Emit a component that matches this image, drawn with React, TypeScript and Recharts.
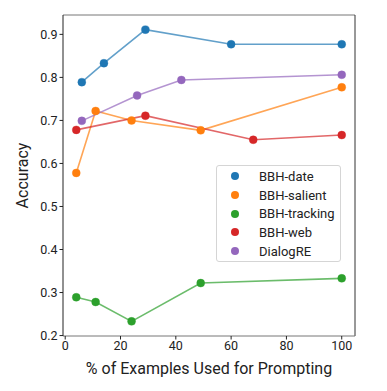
import {
  LineChart,
  Line,
  XAxis,
  YAxis,
  ReferenceLine,
} from 'recharts';

const X_TICKS = [0, 20, 40, 60, 80, 100];
const Y_TICKS = [0.2, 0.3, 0.4, 0.5, 0.6, 0.7, 0.8, 0.9];

const bbhDate = [
  { x: 6, y: 0.789 },
  { x: 14, y: 0.833 },
  { x: 29, y: 0.911 },
  { x: 60, y: 0.877 },
  { x: 100, y: 0.877 },
];
const bbhSalient = [
  { x: 4, y: 0.578 },
  { x: 11, y: 0.722 },
  { x: 24, y: 0.7 },
  { x: 49, y: 0.677 },
  { x: 100, y: 0.777 },
];
const bbhTracking = [
  { x: 4, y: 0.289 },
  { x: 11, y: 0.278 },
  { x: 24, y: 0.233 },
  { x: 49, y: 0.322 },
  { x: 100, y: 0.333 },
];
const bbhWeb = [
  { x: 4, y: 0.678 },
  { x: 29, y: 0.711 },
  { x: 68, y: 0.655 },
  { x: 100, y: 0.666 },
];
const dialogRE = [
  { x: 6, y: 0.699 },
  { x: 26, y: 0.758 },
  { x: 42, y: 0.794 },
  { x: 100, y: 0.806 },
];

const SERIES = [
  { name: 'BBH-date', data: bbhDate, color: '#1f77b4' },
  { name: 'BBH-salient', data: bbhSalient, color: '#ff7f0e' },
  { name: 'BBH-tracking', data: bbhTracking, color: '#2ca02c' },
  { name: 'BBH-web', data: bbhWeb, color: '#d62728' },
  { name: 'DialogRE', data: dialogRE, color: '#9467bd' },
];

const X_DOMAIN: [number, number] = [-0.8, 104.8];
const Y_DOMAIN: [number, number] = [0.199, 0.945];
const FONT = 'Roboto, "Open Sans", sans-serif';

const LegendBox = () => (
  <div
    style={{
      position: 'absolute',
      left: 216,
      top: 165,
      width: 125,
      height: 97,
      border: '1px solid #d5d5d5',
      borderRadius: 3,
      background: 'rgba(255,255,255,0.85)',
      padding: '1px 0 0 0',
      boxSizing: 'border-box',
      fontFamily: FONT,
      fontSize: 13,
      color: '#222',
    }}
  >
    {SERIES.map((s) => (
      <div
        key={s.name}
        style={{ display: 'flex', alignItems: 'center', height: 18.7 }}
      >
        <span
          style={{
            display: 'inline-block',
            width: 8,
            height: 8,
            borderRadius: 4,
            background: s.color,
            marginLeft: 14,
            marginRight: 20,
          }}
        />
        <span>{s.name}</span>
      </div>
    ))}
  </div>
);

export default function App() {
  return (
    <div style={{ position: 'absolute', left: 0, top: 0, width: 387, height: 391, background: '#fff' }}>
      <LineChart
        width={387}
        height={391}
        margin={{ top: 15, right: 32, bottom: 0, left: 0 }}
      >
        <XAxis
          type="number"
          dataKey="x"
          domain={X_DOMAIN}
          ticks={X_TICKS}
          allowDataOverflow
          height={55}
          tick={{ fontSize: 12.5, fill: '#222', fontFamily: FONT }}
          tickSize={3.5}
          tickMargin={2}
          axisLine={{ stroke: '#777' }}
          tickLine={{ stroke: '#222' }}
          label={{
            value: '% of Examples Used for Prompting',
            position: 'insideBottom',
            offset: 17,
            fontSize: 16,
            fill: '#222',
            fontFamily: FONT,
          }}
        />
        <YAxis
          type="number"
          dataKey="y"
          domain={Y_DOMAIN}
          ticks={Y_TICKS}
          allowDataOverflow
          width={63}
          tick={{ fontSize: 12.5, fill: '#222', fontFamily: FONT }}
          tickFormatter={(v: number) => v.toFixed(1)}
          tickSize={3.5}
          tickMargin={2}
          axisLine={{ stroke: '#222' }}
          tickLine={{ stroke: '#222' }}
          label={{
            value: 'Accuracy',
            angle: -90,
            position: 'insideLeft',
            offset: 22,
            fontSize: 16,
            fill: '#222',
            fontFamily: FONT,
            style: { textAnchor: 'middle' },
          }}
        />
        <ReferenceLine y={Y_DOMAIN[1]} stroke="#777" strokeWidth={1} ifOverflow="visible" />
        <ReferenceLine x={X_DOMAIN[1]} stroke="#333" strokeWidth={1} ifOverflow="visible" />
        {SERIES.map((s) => (
          <Line
            key={s.name}
            data={s.data}
            dataKey="y"
            name={s.name}
            type="linear"
            stroke={s.color}
            strokeOpacity={0.7}
            strokeWidth={1.6}
            dot={{ r: 4, fill: s.color, stroke: s.color, strokeWidth: 0.5 }}
            activeDot={false}
            isAnimationActive={false}
          />
        ))}
      </LineChart>
      <LegendBox />
    </div>
  );
}
